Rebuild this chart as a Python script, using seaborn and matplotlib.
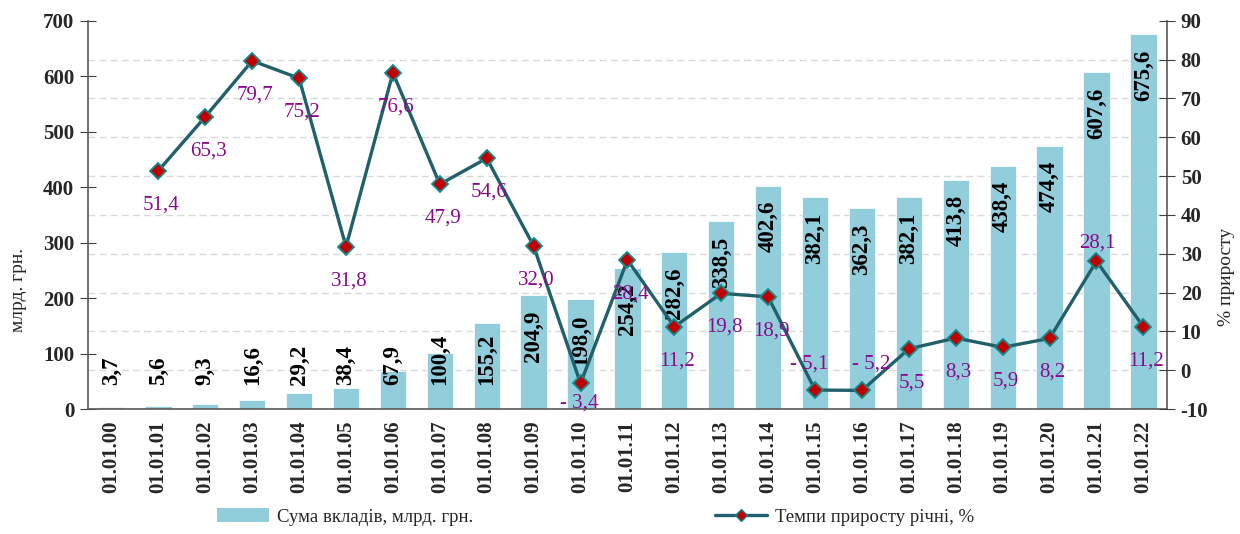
import numpy as np
import pandas as pd
import matplotlib
matplotlib.use("Agg")
import matplotlib.pyplot as plt
from matplotlib.ticker import MultipleLocator, FixedLocator
from matplotlib.lines import Line2D
from matplotlib.patches import Patch
import seaborn as sns

dates = ["01.01.00", "01.01.01", "01.01.02", "01.01.03", "01.01.04", "01.01.05",
         "01.01.06", "01.01.07", "01.01.08", "01.01.09", "01.01.10", "01.01.11",
         "01.01.12", "01.01.13", "01.01.14", "01.01.15", "01.01.16", "01.01.17",
         "01.01.18", "01.01.19", "01.01.20", "01.01.21", "01.01.22"]
deposits = [3.7, 5.6, 9.3, 16.6, 29.2, 38.4, 67.9, 100.4, 155.2, 204.9, 198.0,
            254.2, 282.6, 338.5, 402.6, 382.1, 362.3, 382.1, 413.8, 438.4, 474.4,
            607.6, 675.6]
growth = [np.nan, 51.4, 65.3, 79.7, 75.2, 31.8, 76.6, 47.9, 54.6, 32.0, -3.4,
          28.4, 11.2, 19.8, 18.9, -5.1, -5.2, 5.5, 8.3, 5.9, 8.2, 28.1, 11.2]

bar_name = "Сума вкладів, млрд. грн."
line_name = "Темпи приросту річні, %"

sns.set_style("white")
plt.rcParams["font.family"] = ["Liberation Serif", "DejaVu Serif"]
plt.rcParams["axes.unicode_minus"] = False

BAR_C = "#92CDDC"
LINE_C = "#215F6B"
LBL_C = "#8B0A8B"

df = pd.DataFrame({"date": dates, "dep": deposits, "gr": growth})
df["pos"] = np.arange(len(df))

fig, ax = plt.subplots(figsize=(12.4, 5.34), dpi=100)
fig.subplots_adjust(left=0.071, right=0.941, top=0.961, bottom=0.234)

sns.barplot(data=df, x="pos", y="dep", color=BAR_C, saturation=1, width=0.56,
            ax=ax, native_scale=True, edgecolor="white", linewidth=0.5)
ax.set_xlim(-0.5, len(df) - 0.5)
ax.set_ylim(0, 700)
ax.yaxis.set_major_locator(MultipleLocator(100))
ax.yaxis.set_minor_locator(MultipleLocator(70))
ax.grid(which="minor", axis="y", ls=(0, (5, 3)), color="#D9D9D9", lw=1)
ax.grid(which="major", axis="y", visible=False)
ax.set_axisbelow(True)

ax.xaxis.set_major_locator(FixedLocator(df["pos"].values))
ax.set_xticklabels(dates, rotation=90, fontsize=15, fontweight="bold")
ax.xaxis.set_minor_locator(FixedLocator(np.arange(len(df) + 1) - 0.5))
ax.tick_params(axis="x", which="major", length=0, pad=8)
ax.tick_params(axis="x", which="minor", length=12, direction="inout", color="#404040")
ax.tick_params(axis="y", which="major", length=12, direction="inout", color="#404040",
               labelsize=15, pad=4)
ax.tick_params(axis="y", which="minor", length=0)
for t in ax.get_yticklabels():
    t.set_fontweight("bold")
ax.set_xlabel("")
ax.set_ylabel("млрд. грн.", fontsize=14)
ax.yaxis.set_label_coords(-0.057, 0.307)
for s in ["left", "right", "bottom"]:
    ax.spines[s].set_color("#595959")
    ax.spines[s].set_linewidth(1.2)
ax.spines["top"].set_visible(False)

for i, v in enumerate(deposits):
    txt = f"{v:.1f}".replace(".", ",")
    if v < 160:
        ax.annotate(txt, xy=(i, 0), xytext=(0, 17), textcoords="offset points",
                    rotation=90, ha="center", va="bottom", fontsize=16.5,
                    fontweight="bold", color="black")
    else:
        ax.annotate(txt, xy=(i, v), xytext=(0, -11), textcoords="offset points",
                    rotation=90, ha="center", va="top", fontsize=16.5,
                    fontweight="bold", color="black")

ax2 = ax.twinx()
sns.lineplot(data=df, x="pos", y="gr", ax=ax2, color=LINE_C, lw=2.4,
             marker="D", markersize=8, markerfacecolor="#C00000",
             markeredgecolor="#0E8C8C", markeredgewidth=1.3)
ax2.set_ylim(-10, 90)
ax2.yaxis.set_major_locator(MultipleLocator(10))
ax2.tick_params(axis="y", length=12, direction="inout", color="#404040",
                labelsize=15, pad=4)
for t in ax2.get_yticklabels():
    t.set_fontweight("bold")
ax2.set_ylabel("% приросту", fontsize=14)
ax2.yaxis.set_label_coords(1.047, 0.34)
ax2.set_xlabel("")
for s in ax2.spines.values():
    s.set_visible(False)

offsets = {10: (-1, -14), 15: (-4, 19), 16: (7, 19), 21: (1, 13)}
for i, g in enumerate(growth):
    if np.isnan(g):
        continue
    txt = f"{g:.1f}".replace(".", ",")
    if g < 0:
        txt = "- " + txt[1:]
    dx, dy = offsets.get(i, (2, -24.5))
    ax2.annotate(txt, xy=(i, g), xytext=(dx, dy), textcoords="offset points",
                 ha="center", va="center", fontsize=15, color=LBL_C)

handles = [Patch(facecolor=BAR_C, edgecolor="none"),
           Line2D([0], [0], color=LINE_C, lw=2.4, marker="D", markersize=6,
                  markerfacecolor="#C00000", markeredgecolor="#0E8C8C")]
fig.legend(handles, [bar_name, line_name], loc="center", ncol=2,
           bbox_to_anchor=(0.48, 0.032), frameon=False, fontsize=13.5,
           handlelength=2.8, handleheight=0.8, columnspacing=12.9, handletextpad=0.4)

fig.savefig("out.png", dpi=100)
